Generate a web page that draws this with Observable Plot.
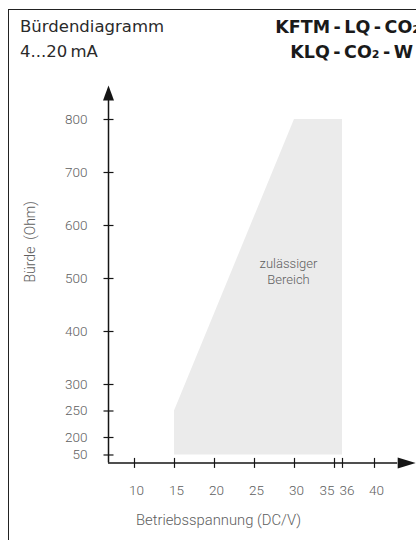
<!DOCTYPE html>
<html>
<head>
<meta charset="utf-8">
<script src="https://cdn.jsdelivr.net/npm/d3@7"></script>
<script src="https://cdn.jsdelivr.net/npm/@observablehq/plot@0.6"></script>
<style>
  html, body { margin: 0; padding: 0; background: #fff; }
  #wrap { position: relative; width: 416px; height: 540px; overflow: hidden; background: #fff; }
  #frame { position: absolute; left: 8px; top: 9px; width: 600px; height: 700px;
           border-left: 1.5px solid #222; border-top: 1.5px solid #222; pointer-events: none; z-index: 2; }
  #header { position: relative; height: 70px; }
  .tl { position: absolute; left: 20px; font-family: "DejaVu Sans", sans-serif; font-size: 16.5px;
        line-height: 16px; color: #2a2a2a; white-space: nowrap; }
  .tr { position: absolute; right: -4px; font-family: "DejaVu Sans", sans-serif; font-weight: bold;
        font-size: 17.5px; line-height: 16px; color: #1a1a1a; white-space: nowrap; text-align: right; }
  #chart svg { display: block; }
</style>
</head>
<body>
<div id="wrap">
  <div id="frame"></div>
  <div id="header"></div>
  <div id="chart"></div>
</div>
<script>
// ---- data ----
const titleLeft = ["Bürdendiagramm", "4...20\u2009mA"];
const titleRight = ["KFTM\u2009-\u2009LQ\u2009-\u2009CO\u2082", "KLQ\u2009-\u2009CO\u2082\u2009-\u2009W"];
const xTicks = [10, 15, 20, 25, 30, 35, 36, 40];
const yTicks = [50, 200, 250, 300, 400, 500, 600, 700, 800];
const regionVoltage = [15, 30, 36];
const regionLoadMin = [50, 50, 50];
const regionLoadMax = [250, 800, 800];
const regionLabel = "zulässiger\nBereich";
const xTitle = "Betriebsspannung (DC/V)";
const yTitle = "Bürde\u00a0\u00a0(Ohm)";

// axis structure (origin and arrow positions, in data units)
const xOrigin = 6.75, yOrigin = -18;
const xArrowBase = 42.9, yArrowBase = 836;

// broken y axis: values below 200 are compressed
const yBreak = 200, yCompress = 0.22;
const brk = v => v >= yBreak ? v : yBreak - (yBreak - v) * yCompress;

// ---- header ----
const header = document.getElementById("header");
titleLeft.forEach((t, i) => {
  const d = document.createElement("div");
  d.className = "tl"; d.textContent = t; d.style.top = (19 + i * 25) + "px";
  header.appendChild(d);
});
titleRight.forEach((t, i) => {
  const d = document.createElement("div");
  d.className = "tr"; d.textContent = t; d.style.top = (19 + i * 25) + "px";
  if (i === 1) d.style.right = "3px";
  header.appendChild(d);
});

// ---- custom symbols ----
const upArrow = { draw(ctx) { ctx.moveTo(0, -15); ctx.lineTo(5.5, 0); ctx.lineTo(-5.5, 0); ctx.closePath(); } };
const rightArrow = { draw(ctx) { ctx.moveTo(18, 0); ctx.lineTo(0, 5.5); ctx.lineTo(0, -5.5); ctx.closePath(); } };
const hTick = { draw(ctx) { ctx.moveTo(-5, 0); ctx.lineTo(5, 0); } };
const vTick = { draw(ctx) { ctx.moveTo(0, -5); ctx.lineTo(0, 5); } };

const region = regionVoltage.map((v, i) => ({ v, lo: regionLoadMin[i], hi: regionLoadMax[i] }));
const axisColor = "#151515";
const labelColor = "#5e5e5e";
const tickLabel = { y: brk(yOrigin), text: d => String(d), dy: 27.5, fill: labelColor, fontWeight: 300 };

const chart = Plot.plot({
  width: 416,
  height: 470,
  margin: 0,
  style: { fontFamily: "Roboto, sans-serif", fontSize: "13.5px", background: "transparent" },
  x: { domain: [10, 40], range: [134, 374], axis: null },
  y: { domain: [200, 800], range: [367, 49], axis: null, zero: false },
  marks: [
    Plot.areaY(region, { x: "v", y1: d => brk(d.lo), y2: d => brk(d.hi), fill: "#ebebeb" }),
    Plot.text([regionLabel], { x: 29.25, y: 515, text: d => d, fill: labelColor,
      fontSize: 13, lineHeight: 1.3, fontWeight: 300 }),
    // axes lines
    Plot.ruleX([xOrigin], { y1: brk(yOrigin), y2: yArrowBase, stroke: axisColor, strokeWidth: 1.5 }),
    Plot.ruleY([brk(yOrigin)], { x1: xOrigin, x2: xArrowBase, stroke: axisColor, strokeWidth: 1.5 }),
    Plot.dot([0], { x: xOrigin, y: yArrowBase, symbol: upArrow, fill: axisColor, stroke: "none" }),
    Plot.dot([0], { x: xArrowBase, y: brk(yOrigin), symbol: rightArrow, fill: axisColor, stroke: "none" }),
    // ticks
    Plot.dot(yTicks, { x: xOrigin, y: d => brk(d), symbol: hTick, fill: "none", stroke: axisColor, strokeWidth: 1.2 }),
    Plot.dot(xTicks, { x: d => d, y: brk(yOrigin), symbol: vTick, fill: "none", stroke: axisColor, strokeWidth: 1.2 }),
    // tick labels
    Plot.text(yTicks, { x: xOrigin, y: d => brk(d), text: d => String(d), textAnchor: "end", dx: -21,
      fill: labelColor, fontWeight: 300 }),
    Plot.text(xTicks.filter(d => d !== 35 && d !== 36), { x: d => d, ...tickLabel, dx: 2 }),
    Plot.text(xTicks.filter(d => d === 35), { x: d => d, ...tickLabel, textAnchor: "end", dx: 0 }),
    Plot.text(xTicks.filter(d => d === 36), { x: d => d, ...tickLabel, textAnchor: "start", dx: -3 }),
    // axis titles
    Plot.text([xTitle], { frameAnchor: "bottom", text: d => d, dx: 10, dy: -16, fill: labelColor,
      fontSize: 14.8, fontWeight: 300 }),
    Plot.text([yTitle], { frameAnchor: "left", text: d => d, rotate: -90, dx: 30, dy: -23,
      fill: labelColor, fontSize: 14, fontWeight: 300 })
  ]
});
document.getElementById("chart").appendChild(chart);
</script>
</body>
</html>
